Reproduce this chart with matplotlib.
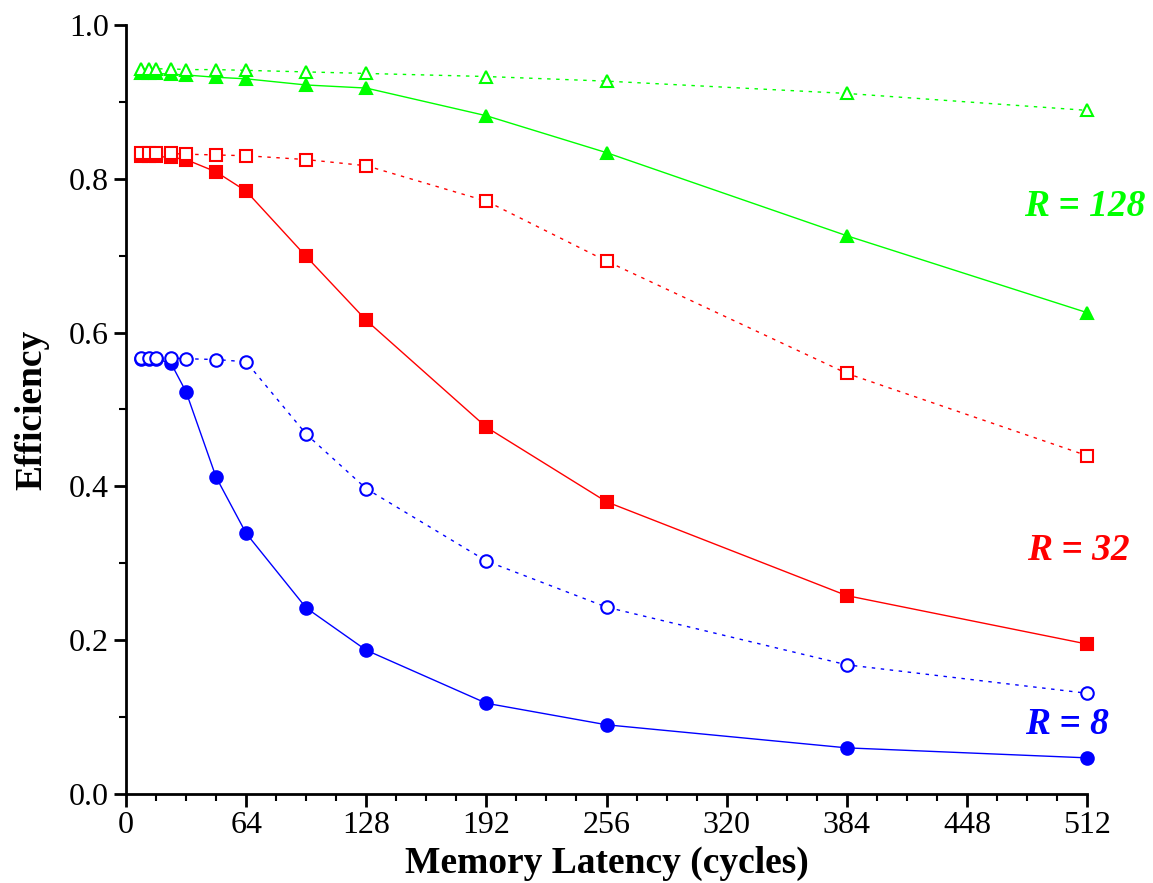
import matplotlib
matplotlib.use("Agg")
import matplotlib.pyplot as plt
from matplotlib.ticker import MultipleLocator, FixedLocator

latency = [8, 12, 16, 24, 32, 48, 64, 96, 128, 192, 256, 384, 512]

r128_open = [0.943, 0.943, 0.943, 0.943, 0.942, 0.942, 0.941, 0.939, 0.937, 0.933, 0.927, 0.911, 0.889]
r128_fill = [0.937, 0.937, 0.937, 0.936, 0.935, 0.932, 0.930, 0.922, 0.918, 0.882, 0.834, 0.726, 0.626]
r32_open = [0.834, 0.834, 0.834, 0.833, 0.832, 0.831, 0.830, 0.825, 0.817, 0.771, 0.693, 0.547, 0.440]
r32_fill = [0.829, 0.829, 0.829, 0.828, 0.825, 0.809, 0.784, 0.699, 0.616, 0.477, 0.380, 0.258, 0.195]
r8_open = [0.567, 0.567, 0.567, 0.567, 0.566, 0.565, 0.562, 0.468, 0.397, 0.303, 0.243, 0.168, 0.131]
r8_fill = [0.566, 0.566, 0.566, 0.560, 0.523, 0.412, 0.339, 0.242, 0.187, 0.118, 0.090, 0.060, 0.047]

x_ticks = [0, 64, 128, 192, 256, 320, 384, 448, 512]
y_ticks = [0.0, 0.2, 0.4, 0.6, 0.8, 1.0]

GREEN = "#00ff00"
RED = "#ff0000"
BLUE = "#0000ff"

fig = plt.figure(figsize=(11.53, 8.83), dpi=100)
ax = fig.add_axes([126/1153, 89/883, 961/1153, 769/883])

dot = (0, (2.5, 4))
ms = 8.5
series = [
    (r128_fill, GREEN, "^", "-", True),
    (r128_open, GREEN, "^", dot, False),
    (r32_fill, RED, "s", "-", True),
    (r32_open, RED, "s", dot, False),
    (r8_fill, BLUE, "o", "-", True),
    (r8_open, BLUE, "o", dot, False),
]
for vals, col, mk, ls, filled in series:
    ax.plot(latency, vals, color=col, linestyle=ls, linewidth=1.0,
            marker=mk, markersize=ms if mk != "o" else ms + 0.5,
            markerfacecolor=col if filled else "white",
            markeredgecolor=col, markeredgewidth=1.5, clip_on=False, zorder=3)

ax.set_xlim(0, 512)
ax.set_ylim(0, 1.0)
ax.xaxis.set_major_locator(FixedLocator(x_ticks))
ax.xaxis.set_minor_locator(MultipleLocator(16))
ax.yaxis.set_major_locator(FixedLocator(y_ticks))
ax.yaxis.set_minor_locator(MultipleLocator(0.1))
ax.set_xticklabels([str(t) for t in x_ticks])
ax.set_yticklabels([f"{t:.1f}" for t in y_ticks])

for s in ["top", "right"]:
    ax.spines[s].set_visible(False)
for s in ["left", "bottom"]:
    ax.spines[s].set_linewidth(2)

ax.tick_params(axis="both", which="major", direction="out", length=9, width=2,
               labelsize=23)
ax.tick_params(axis="both", which="minor", direction="out", length=5, width=1.5)
for lab in ax.get_xticklabels() + ax.get_yticklabels():
    lab.set_family("Liberation Serif")

ax.set_xlabel("Memory Latency (cycles)", family="Liberation Serif",
              fontweight="bold", fontsize=27, labelpad=4)
ax.set_ylabel("Efficiency", family="Liberation Serif",
              fontweight="bold", fontsize=27, labelpad=14)

tk = dict(family="Liberation Serif", fontweight="bold", style="italic",
          fontsize=27, ha="center", va="center")
ax.text(1085/1153, 1 - 207/883, "R = 128", color=GREEN, transform=fig.transFigure, **tk)
ax.text(1078/1153, 1 - 551/883, "R = 32", color=RED, transform=fig.transFigure, **tk)
ax.text(1067/1153, 1 - 724/883, "R = 8", color=BLUE, transform=fig.transFigure, **tk)

fig.savefig("out.png", dpi=100)
